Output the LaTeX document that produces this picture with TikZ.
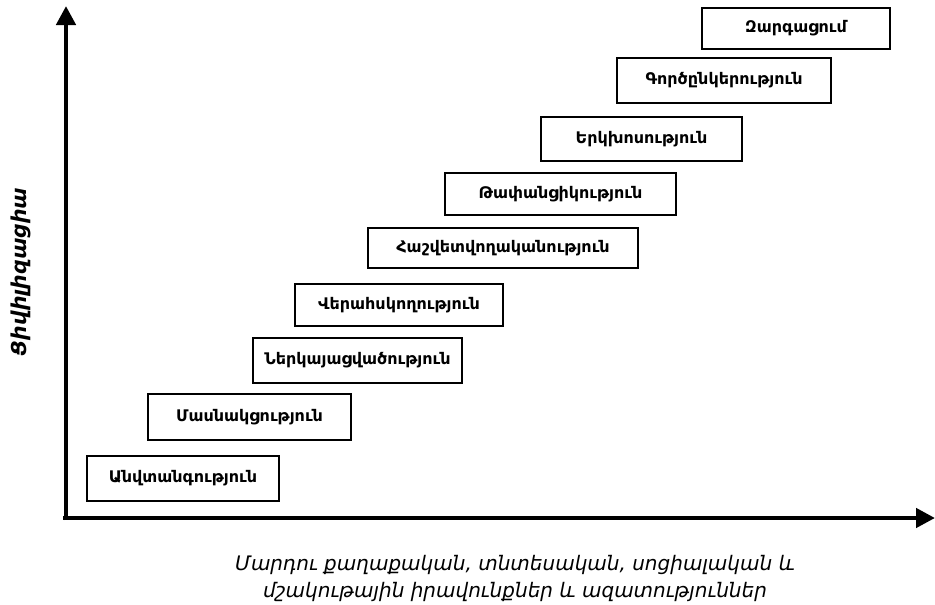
\documentclass[tikz,border=0pt]{standalone}
\usepackage{fontspec}
\setmainfont{DejaVu Sans}
\usetikzlibrary{arrows.meta}
\tikzset{
  stagebox/.style={draw=black, line width=2.8pt, fill=white, inner sep=0pt},
  stagetext/.style={font=\bfseries\fontsize{16}{18}\selectfont},
  axisline/.style={line width=4.5pt, -{Triangle[length=19pt,width=19pt]}},
  ylabel/.style={font=\bfseries\itshape\fontsize{20.5}{22}\selectfont},
  xlabel/.style={font=\itshape\fontsize{20}{27}\selectfont, align=center, inner sep=0pt}
}
\newcommand{\stage}[6]{\node[stagebox, minimum width={#3-#2}, minimum height={#5-#4}] (#1) at ({(#2+#3)/2},{(#4+#5)/2}) {};
\node[stagetext] at (#1) {#6};}
\begin{document}
\begin{tikzpicture}[x=1pt,y=-1pt]
\useasboundingbox (0,0) rectangle (935,605);
\coordinate (ytip) at (66,6);
\coordinate (xtip) at (935,518);
\draw[axisline] (66,520) -- (ytip);
\draw[axisline] (63,518) -- (xtip);
\stage{s1}{702}{890}{8}{49}{Զարգացում}
\stage{s2}{617}{831}{58}{103}{Գործընկերություն}
\stage{s3}{541}{742}{117}{161}{Երկխոսություն}
\stage{s4}{445}{676}{173}{215}{Թափանցիկություն}
\stage{s5}{368}{638}{228}{268}{Հաշվետվողականություն}
\stage{s6}{295}{503}{284}{326}{Վերահսկողություն}
\stage{s7}{253}{462}{338}{383}{Ներկայացվածություն}
\stage{s8}{148}{351}{394}{440}{Մասնակցություն}
\stage{s9}{87}{279}{456}{501}{Անվտանգություն}
\node[ylabel, rotate=90] (ylab) at (21,272) {Ցիվիլիզացիա};
\node[xlabel] (xlab) at (515,578) {Մարդու քաղաքական, տնտեսական, սոցիալական և\\մշակութային իրավունքներ և ազատություններ};
\end{tikzpicture}
\end{document}
